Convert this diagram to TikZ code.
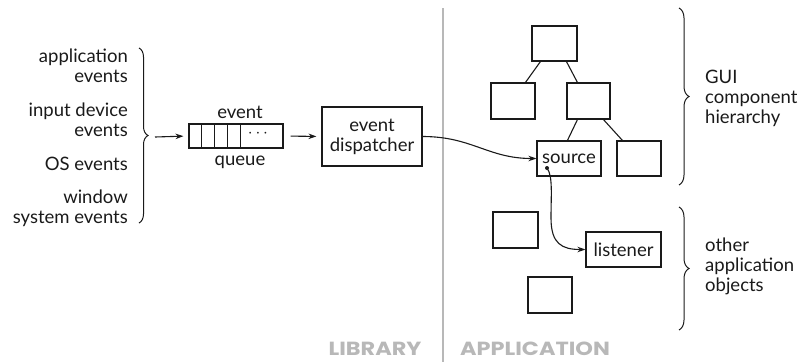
\documentclass[tikz,border=0pt]{standalone}
\usepackage{fontspec}
\setmainfont{Lato}
\newfontfamily\sidefont{Poppins}[FakeStretch=1.18]
\usetikzlibrary{arrows.meta,decorations.pathreplacing}
\definecolor{ink}{HTML}{1A1A1A}
\definecolor{divider}{HTML}{B8B8B8}
\begin{document}
\begin{tikzpicture}[x=1pt,y=-1pt,
  every node/.style={font=\fontsize{18.5}{20}\selectfont, text=ink, inner sep=0pt},
  box/.style={draw=ink, line width=1.1pt, rectangle, inner sep=0pt},
  link/.style={draw=ink, line width=1.1pt},
  arr/.style={draw=ink, line width=1.1pt, -{Stealth[length=8pt,width=5.5pt]}},
  curly/.style={draw=ink, line width=1pt, decorate, decoration={brace, amplitude=#1}},
  side/.style={font=\sidefont\fontsize{19}{20}\selectfont\bfseries, text=divider}]
\useasboundingbox (0,0) rectangle (804,362);

% library / application divider
\draw[divider, line width=2pt] (443,8) -- (443,362);
\node[side] (lib) at (375,349) {LIBRARY};
\node[side] (app) at (535,349) {APPLICATION};

% event sources
\node[anchor=east, align=right] (src1) at (128,65.5) {application\\events};
\node[anchor=east, align=right] (src2) at (128,120) {input device\\events};
\node[anchor=east, align=right] (src3) at (128,164) {OS events};
\node[anchor=east, align=right] (src4) at (128,208) {window\\system events};
\draw[curly=9pt] (139,48) -- (139,223);
\coordinate (tipL) at (155,137);

% event queue
\node[box, minimum width=94pt, minimum height=24pt] (q) at (236,136) {};
\foreach \dx in {13,26,39,52}
  \draw[link] ([xshift=\dx pt]q.north west) -- ([xshift=\dx pt]q.south west);
\node (dots) at (258,134) {$\cdots$};
\node (qtop) at (240,112) {event};
\node (qbot) at (240,162) {queue};
\draw[arr, shorten >=5pt] (tipL) -- (q.west);

% dispatcher
\node[box, minimum width=100pt, minimum height=59pt, align=center] (d) at (372,136.5) {event\\dispatcher};
\draw[arr, shorten <=7pt, shorten >=5pt] (q.east) -- (d.west);

% GUI component tree
\node[box, minimum width=45pt, minimum height=35pt] (t0) at (554.5,43.5) {};
\node[box, minimum width=44pt, minimum height=36pt] (t1) at (513,101) {};
\node[box, minimum width=43pt, minimum height=36pt] (t2) at (588.5,101) {};
\node[box, minimum width=64pt, minimum height=35pt] (s) at (569,158.5) {source};
\node[box, minimum width=44pt, minimum height=35pt] (t3) at (639,158.5) {};
\draw[link] ([xshift=9pt]t0.south west) -- ([xshift=35pt]t1.north west);
\draw[link] ([xshift=35pt]t0.south west) -- ([xshift=11pt]t2.north west);
\draw[link] ([xshift=11pt]t2.south west) -- ([xshift=31pt]s.north west);
\draw[link] ([xshift=37pt]t2.south west) -- ([xshift=6pt]t3.north west);

\draw[arr] (d.east) .. controls (472,136.5) and (488,158.5) .. (s.west);

% other application objects
\node[box, minimum width=45pt, minimum height=36pt] (o1) at (515.5,230) {};
\node[box, minimum width=44pt, minimum height=36pt] (o2) at (550,295) {};
\node[box, minimum width=75pt, minimum height=35pt] (l) at (623.5,249.5) {listener};

\fill[ink] (547,168) circle (2pt) coordinate (dot);
\draw[arr] (dot) .. controls (553,176) and (551,195) .. (551,218)
  .. controls (551,244) and (562,249.5) .. (l.west);

% right-hand groupings
\draw[curly=10pt] (679,8) -- (679,185);
\node[anchor=west, align=left] (gui) at (705,98) {GUI\\component\\hierarchy};
\draw[curly=10pt] (679,207) -- (679,330);
\node[anchor=west, align=left] (other) at (705,266) {other\\application\\objects};
\end{tikzpicture}
\end{document}
